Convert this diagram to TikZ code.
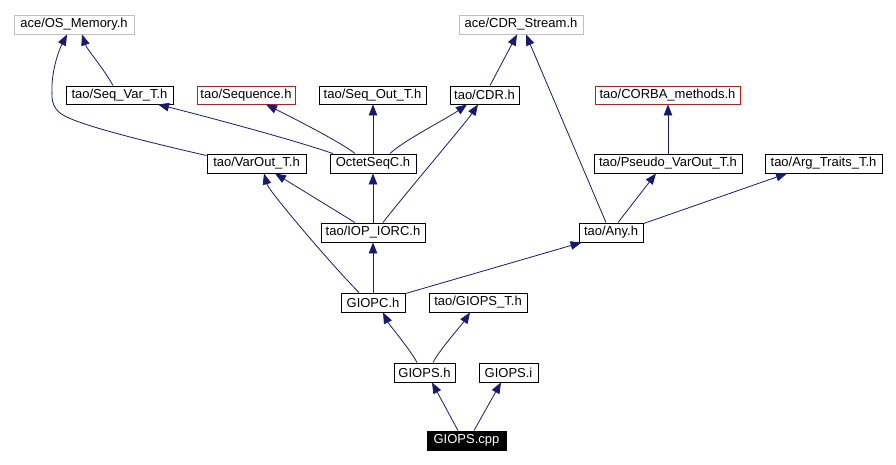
\documentclass[tikz,border=0pt]{standalone}
\usepackage{fontspec}
\setmainfont{Liberation Sans}
\usetikzlibrary{arrows.meta}
\definecolor{edgecol}{RGB}{25,25,112}
\definecolor{graybox}{RGB}{191,191,191}
\definecolor{redbox}{RGB}{255,0,0}
\tikzset{
  filebox/.style={draw=black, line width=0.9pt, inner sep=0pt, minimum height=19pt, font=\fontsize{13}{15}\selectfont},
  extbox/.style={filebox, draw=graybox},
  missbox/.style={filebox, draw=redbox},
  rootbox/.style={filebox, fill=black, text=white},
  dep/.style={draw=edgecol, line width=0.8pt, -{Triangle[length=11pt,width=8.5pt]}},
}
\begin{document}
\begin{tikzpicture}[x=1pt,y=-1pt]
\useasboundingbox[fill=white] (0,0) rectangle (896,465);
\node[extbox, minimum width=120pt] (OSM) at (74,24.5) {ace/OS\_Memory.h};
\node[extbox, minimum width=124pt] (CDRS) at (521,24.5) {ace/CDR\_Stream.h};
\node[filebox, minimum width=107pt, minimum height=18pt] (SeqVar) at (119.5,95) {tao/Seq\_Var\_T.h};
\node[missbox, minimum width=98pt, minimum height=18pt] (Seq) at (246,95) {tao/Sequence.h};
\node[filebox, minimum width=107pt, minimum height=18pt] (SeqOut) at (372.5,95) {tao/Seq\_Out\_T.h};
\node[filebox, minimum width=69pt, minimum height=18pt] (CDR) at (484.5,95) {tao/CDR.h};
\node[missbox, minimum width=145pt, minimum height=18pt] (CORBA) at (667.5,95) {tao/CORBA\_methods.h};
\node[filebox, minimum width=99pt] (VarOut) at (256.5,163.5) {tao/VarOut\_T.h};
\node[filebox, minimum width=86pt] (Octet) at (373,163.5) {OctetSeqC.h};
\node[filebox, minimum width=148pt] (Pseudo) at (668,163.5) {tao/Pseudo\_VarOut\_T.h};
\node[filebox, minimum width=117pt] (Arg) at (823.5,163.5) {tao/Arg\_Traits\_T.h};
\node[filebox, minimum width=104pt] (IOP) at (373,232.5) {tao/IOP\_IORC.h};
\node[filebox, minimum width=64pt] (Any) at (611,232.5) {tao/Any.h};
\node[filebox, minimum width=64pt] (GIOPC) at (373,302.5) {GIOPC.h};
\node[filebox, minimum width=98pt] (GIOPST) at (478,302.5) {tao/GIOPS\_T.h};
\node[filebox, minimum width=61pt] (GIOPSh) at (424.5,372.5) {GIOPS.h};
\node[filebox, minimum width=59pt] (GIOPSi) at (508.5,372.5) {GIOPS.i};
\node[rootbox, minimum width=79pt] (cpp) at (466.5,440.5) {GIOPS.cpp};

\draw[dep] ([xshift=-6.5pt]SeqVar.north) .. controls +(-10,-18) and +(5,15) .. ([xshift=8pt]OSM.south);
\draw[dep] ([yshift=-2pt]VarOut.north west) .. controls (130,138) and (78,124) .. (63,115)
   .. controls (50,107) and (52,97) .. (52,85) .. controls (53,65) and (60,48) .. ([xshift=-7pt]OSM.south);
\draw[dep] ([xshift=-40pt]Octet.north) .. controls +(-40,-14) and +(40,10) .. ([xshift=38.5pt]SeqVar.south);
\draw[dep] ([xshift=-18pt]Octet.north) .. controls +(-15,-12) and +(20,10) .. ([xshift=20pt]Seq.south);
\draw[dep] (Octet.north) -- (Octet.north |- SeqOut.south);
\draw[dep] ([xshift=17pt]Octet.north) .. controls +(12,-12) and +(-20,14) .. ([xshift=-17.5pt]CDR.south);
\draw[dep] ([xshift=-18pt]IOP.north) -- ([xshift=18.5pt]VarOut.south);
\draw[dep] (IOP.north) -- (IOP.north |- Octet.south);
\draw[dep] ([xshift=10pt]IOP.north) .. controls +(15,-20) and +(-12,18) .. ([xshift=-6.5pt]CDR.south);
\draw[dep] ([xshift=-14pt]GIOPC.north) .. controls +(-25,-25) and +(5,18) .. ([xshift=7.5pt]VarOut.south);
\draw[dep] (GIOPC.north) -- (GIOPC.north |- IOP.south);
\draw[dep] ([yshift=-1pt]GIOPC.north east) -- ([xshift=3pt]Any.south west);
\draw[dep] ([xshift=5.5pt]CDR.north) -- ([xshift=-4pt]CDRS.south);
\draw[dep] ([xshift=-5pt]Any.north) -- ([xshift=5pt]CDRS.south);
\draw[dep] ([xshift=7pt]Any.north) -- ([xshift=-12pt]Pseudo.south);
\draw[dep] ([yshift=-1pt]Any.north east) -- ([xshift=-36.5pt]Arg.south);
\draw[dep] (Pseudo.north) -- (Pseudo.north |- CORBA.south);
\draw[dep] ([xshift=-7.5pt]GIOPSh.north) .. controls +(-6,-12) and +(6,12) .. ([xshift=10pt]GIOPC.south);
\draw[dep] ([xshift=8.5pt]GIOPSh.north) .. controls +(6,-12) and +(-8,12) .. ([xshift=-8pt]GIOPST.south);
\draw[dep] ([xshift=-8.5pt]cpp.north) -- ([xshift=7.5pt]GIOPSh.south);
\draw[dep] ([xshift=7.5pt]cpp.north) -- ([xshift=-7.5pt]GIOPSi.south);
\end{tikzpicture}
\end{document}
